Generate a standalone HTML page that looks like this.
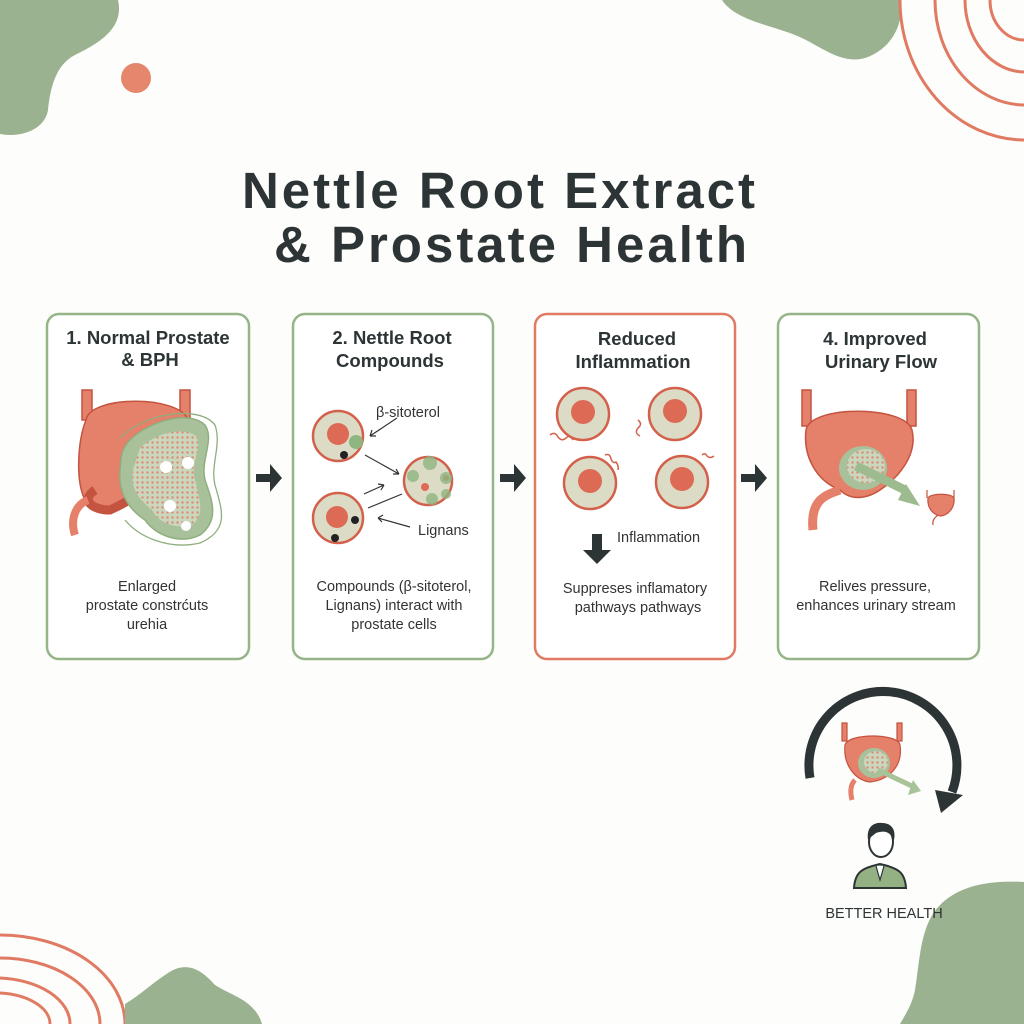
<!DOCTYPE html>
<html><head><meta charset="utf-8"><style>
html,body{margin:0;padding:0;background:#fdfdfb;}
svg{display:block}
text{font-family:"Liberation Sans",sans-serif;}
</style></head><body>
<svg width="1024" height="1024" viewBox="0 0 1024 1024" xmlns="http://www.w3.org/2000/svg">
<defs>
<pattern id="dots" width="5" height="5" patternUnits="userSpaceOnUse"><rect width="5" height="5" fill="#c9d7bd"/><circle cx="2.5" cy="2.5" r="1.2" fill="#e08a78"/></pattern>
</defs>
<rect width="1024" height="1024" fill="#fdfdfb"/>
<path d="M0 0 H118 C125 30 95 45 75 55 C55 65 50 90 48 110 C45 130 20 138 0 134 Z" fill="#9ab28f"/>
<circle cx="136" cy="78" r="15" fill="#e5876d"/>
<path d="M722 0 H900 C905 25 890 50 865 58 C840 65 820 45 795 35 C770 25 735 20 722 0 Z" fill="#9ab28f"/>
<g fill="none" stroke="#e07a63" stroke-width="3">
<path d="M900 0 A125 140 0 0 0 1024 140"/>
<path d="M935 0 A90 105 0 0 0 1024 105"/>
<path d="M965 0 A60 72 0 0 0 1024 72"/>
<path d="M990 0 A34 40 0 0 0 1024 40"/>
<path d="M0 935 A125 89 0 0 1 125 1024"/>
<path d="M0 958 A100 66 0 0 1 100 1024"/>
<path d="M0 978 A75 46 0 0 1 70 1024"/>
<path d="M0 993 A55 31 0 0 1 50 1024"/>
</g>
<path d="M125 1004 C140 995 150 985 165 975 C185 960 200 968 215 985 C230 995 255 1000 262 1024 H125 Z" fill="#9ab28f"/>
<path d="M1024 882 C990 880 960 885 940 905 C920 925 920 960 915 990 C912 1005 905 1015 900 1024 H1024 Z" fill="#9ab28f"/>
<text x="500" y="208" text-anchor="middle" font-size="51" font-weight="bold" fill="#2d3436" letter-spacing="3">Nettle Root Extract</text>
<text x="512" y="262" text-anchor="middle" font-size="51" font-weight="bold" fill="#2d3436" letter-spacing="3">&amp; Prostate Health</text>
<g fill="#fff" stroke-width="2.5">
<rect x="47" y="314" width="202" height="345" rx="12" stroke="#95b487"/>
<rect x="293" y="314" width="200" height="345" rx="12" stroke="#95b487"/>
<rect x="535" y="314" width="200" height="345" rx="12" stroke="#e07a63"/>
<rect x="778" y="314" width="201" height="345" rx="12" stroke="#95b487"/>
</g>
<g font-size="18.5" font-weight="bold" fill="#2d3436" text-anchor="middle">
<text x="148" y="344">1. Normal Prostate</text><text x="150" y="366">&amp; BPH</text>
<text x="392" y="344">2. Nettle Root</text><text x="390" y="367">Compounds</text>
<text x="637" y="345">Reduced</text><text x="633" y="368">Inflammation</text>
<text x="875" y="345">4. Improved</text><text x="881" y="368">Urinary Flow</text>
</g>
<g font-size="14.5" fill="#333" text-anchor="middle">
<text x="147" y="591">Enlarged</text><text x="147" y="610">prostate constrćuts</text><text x="147" y="629">urehia</text>
<text x="394" y="591">Compounds (β-sitoterol,</text><text x="394" y="610">Lignans) interact with</text><text x="394" y="629">prostate cells</text>
<text x="635" y="593">Suppreses inflamatory</text><text x="638" y="612">pathways pathways</text>
<text x="875" y="591">Relives pressure,</text><text x="876" y="610">enhances urinary stream</text>
</g>
<g fill="#2d3436">
<path d="M256 474 h14 v-10 l12 14 l-12 14 v-10 h-14 z"/>
<path d="M500 474 h14 v-10 l12 14 l-12 14 v-10 h-14 z"/>
<path d="M741 474 h14 v-10 l12 14 l-12 14 v-10 h-14 z"/>
<path d="M592 534 h10 v16 h9 l-14 14 l-14 -14 h9 z"/>
</g>
<text x="617" y="542" font-size="14.5" fill="#333">Inflammation</text>
<g stroke="#c4533f" stroke-width="1.5">
<path d="M82 390 h10 v30 h-10z M180 390 h10 v30 h-10z" fill="#e5806a"/>
<path d="M86 420 C90 395 180 395 188 420 C195 450 170 480 140 490 C125 495 120 505 110 510 C95 512 90 505 85 500 C75 480 78 440 86 420Z" fill="#e5806a"/>
<path d="M95 490 C80 500 92 510 110 510 C120 505 135 500 150 480" fill="none" stroke="#c4533f" stroke-width="9"/>
<path d="M88 500 C75 505 70 520 75 535" fill="none" stroke="#e5806a" stroke-width="8"/>
</g>
<path d="M130 440 C150 420 190 410 205 425 C215 440 200 460 205 480 C212 500 220 520 200 535 C180 545 155 535 145 520 C130 510 118 495 120 470 C121 455 122 448 130 440Z" fill="#a9c19b" stroke="#8fae7e" stroke-width="1.5"/>
<path d="M140 448 C160 430 185 428 196 436 C203 448 190 462 195 480 C200 500 205 515 192 525 C175 530 158 522 152 510 C140 500 130 490 133 470Z" fill="url(#dots)"/>
<path d="M120 438 C145 412 200 405 215 425 C222 445 210 465 215 485 C222 510 230 530 200 543 C170 550 140 538 125 520" fill="none" stroke="#8fae7e" stroke-width="1.3"/>
<g fill="#fff"><circle cx="166" cy="467" r="6"/><circle cx="188" cy="463" r="6"/><circle cx="170" cy="506" r="6"/><circle cx="186" cy="526" r="5"/></g>
<g stroke="#d3604b" stroke-width="2.5" fill="#dcdcc6">
<circle cx="338" cy="436" r="25"/><circle cx="338" cy="518" r="25"/><circle cx="428" cy="481" r="24"/>
</g>
<g fill="#dd6a55"><circle cx="338" cy="434" r="11"/><circle cx="337" cy="517" r="11"/><circle cx="425" cy="487" r="4"/><circle cx="446" cy="478" r="3"/></g>
<circle cx="356" cy="442" r="7" fill="#8fb580"/>
<g fill="#8fb580" opacity="0.8"><circle cx="430" cy="463" r="7"/><circle cx="446" cy="478" r="6"/><circle cx="413" cy="476" r="6"/><circle cx="432" cy="499" r="6"/><circle cx="446" cy="494" r="5"/></g>
<g fill="#222"><circle cx="344" cy="455" r="4"/><circle cx="355" cy="520" r="4"/><circle cx="335" cy="538" r="4"/></g>
<g stroke="#333" stroke-width="1.2" fill="none">
<path d="M397 418 L370 436 M370 436 l2 -6 M370 436 l6 0"/>
<path d="M365 455 L399 474 M399 474 l-6 0 M399 474 l-3 -5"/>
<path d="M364 494 L384 485 M384 485 l-6 -1 M384 485 l-3 5"/>
<path d="M368 508 L402 494"/>
<path d="M410 527 L378 518 M378 518 l5 -3 M378 518 l4 4"/>
</g>
<text x="376" y="417" font-size="14.5" fill="#333">β-sitoterol</text>
<text x="418" y="535" font-size="14.5" fill="#333">Lignans</text>
<g stroke="#d3604b" stroke-width="2.5" fill="#dcdcc6">
<circle cx="583" cy="414" r="26"/><circle cx="675" cy="414" r="26"/><circle cx="590" cy="483" r="26"/><circle cx="682" cy="482" r="26"/>
</g>
<g fill="#dd6a55"><circle cx="583" cy="412" r="12"/><circle cx="675" cy="411" r="12"/><circle cx="590" cy="481" r="12"/><circle cx="682" cy="479" r="12"/></g>
<g stroke="#d3604b" stroke-width="1.5" fill="none">
<path d="M550 435 q5 -4 8 2 q4 5 8 1 q4 -4 7 2"/>
<path d="M638 420 q5 4 0 8 q-4 5 2 8"/>
<path d="M605 455 q5 -2 6 4 q2 5 5 3 q3 4 2 8"/>
<path d="M702 455 q3 -3 5 1 q3 3 7 0"/>
</g>
<g stroke="#c4533f" stroke-width="1.5" fill="#e5806a">
<path d="M802 390 h9 v36 h-9z M907 390 h9 v36 h-9z"/>
<path d="M806 430 C810 405 905 405 912 430 C918 455 898 478 880 490 C865 500 850 500 840 490 C815 480 803 455 806 430Z"/>
<path d="M840 490 C825 495 810 500 813 530" fill="none" stroke="#e5806a" stroke-width="9"/>
</g>
<ellipse cx="863" cy="468" rx="24" ry="22" fill="#a9c19b"/>
<ellipse cx="866" cy="466" rx="19" ry="17" fill="url(#dots)"/>
<path d="M856 466 L905 490" stroke="#9dbb8e" stroke-width="9"/>
<path d="M898 500 L920 506 L906 484Z" fill="#9dbb8e"/>
<g stroke="#c4533f" stroke-width="1.2" fill="#e5806a">
<path d="M927 490 v8 M954 490 v8" fill="none"/>
<path d="M928 498 C930 493 952 493 954 498 C955 508 948 515 941 516 C933 515 927 508 928 498Z"/>
<path d="M938 515 c-4 3 -6 6 -5 10" fill="none"/>
</g>
<!-- circular arrow -->
<path d="M810 778 A74 74 0 1 1 952 792" fill="none" stroke="#2d3436" stroke-width="9"/>
<path d="M935 790 L963 795 L941 813 Z" fill="#2d3436"/>
<g stroke="#c4533f" stroke-width="1.2" fill="#e5806a">
<path d="M842 723 h5 v18 h-5z M897 723 h5 v18 h-5z"/>
<path d="M845 745 C848 733 898 733 900 745 C903 765 890 780 870 782 C855 780 843 765 845 745Z"/>
<path d="M855 780 C850 785 850 792 852 800" fill="none" stroke="#e5806a" stroke-width="5"/>
</g>
<ellipse cx="874" cy="763" rx="16" ry="15" fill="#a9c19b"/>
<ellipse cx="876" cy="762" rx="12" ry="11" fill="url(#dots)"/>
<path d="M878 770 L914 787" stroke="#a8c39a" stroke-width="5"/>
<path d="M908 795 L921 791 L913 780Z" fill="#a8c39a"/>
<path d="M854 888 C855 872 862 868 880 864 C898 868 905 872 906 888 Z" fill="#94b184" stroke="#2d3436" stroke-width="2"/>
<path d="M876 866 L880 880 L884 866" fill="#fff" stroke="#2d3436" stroke-width="1.2"/>
<ellipse cx="881" cy="842" rx="12" ry="15" fill="#fff" stroke="#2d3436" stroke-width="2"/>
<path d="M868 840 C866 826 875 822 882 823 C892 823 896 830 894 840 C890 832 885 830 876 833 C872 836 870 838 868 840Z" fill="#2d3436"/>
<text x="884" y="918" text-anchor="middle" font-size="14.5" fill="#2d3436">BETTER HEALTH</text>
</svg>
</body></html>
